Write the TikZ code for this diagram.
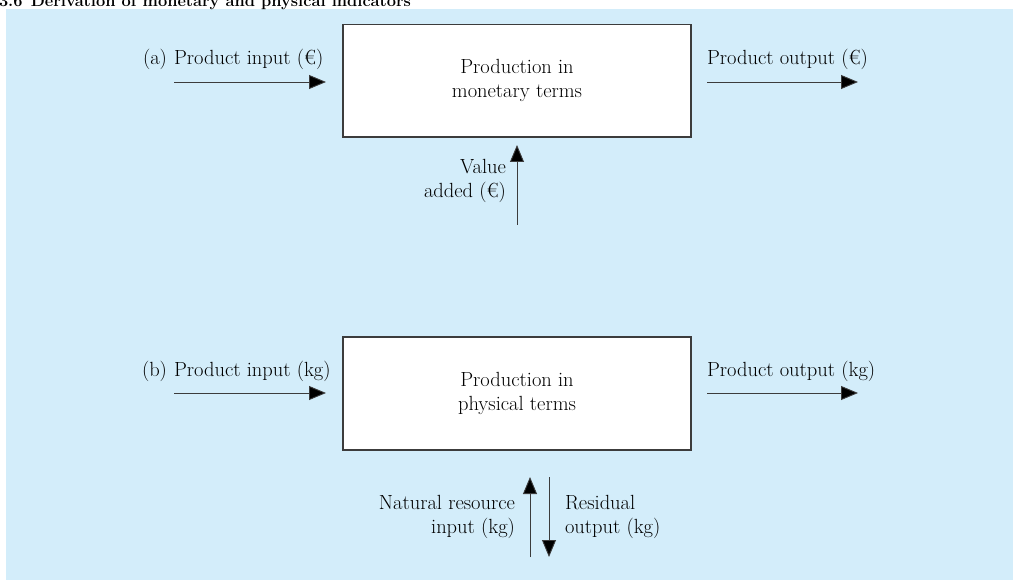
\documentclass[tikz,border=0pt]{standalone}
\usepackage{fontspec}
\usetikzlibrary{arrows.meta}
\definecolor{panelblue}{RGB}{211,237,250}
\definecolor{inkgray}{RGB}{60,60,60}
\begin{document}
\begin{tikzpicture}[x=1pt,y=-1pt,
  every node/.style={inner sep=0pt,outer sep=0pt,font=\fontsize{20.5}{24}\selectfont},
  procbox/.style={draw=inkgray,line width=1.4pt,fill=white},
  flow/.style={draw=inkgray,line width=0.9pt,-{Triangle[length=17pt,width=14pt,fill=black]}},
  lbl/.style={anchor=base west},
  tag/.style={anchor=base east}]
\useasboundingbox (0,0) rectangle (1013,580);
\clip (0,0) rectangle (1013,580);
% panel background and title
\fill[panelblue] (6,9) rectangle (1013,580);
\node[anchor=base west,font=\fontsize{16.4}{19}\selectfont\bfseries] (title) at (-1,7)
  {3.6\enspace Derivation of monetary and physical indicators};

% (a) monetary terms
\node[procbox,minimum width=348pt,minimum height=112.5pt,anchor=north west] (boxa) at (343,24.5) {};
\node[align=center] (boxatext) at (boxa.center) {Production in\\monetary terms};
\node[tag] (taga) at (167,65) {(a)};
\node[lbl] (ina) at (174,65) {Product input (€)};
\node[lbl] (outa) at (707,65) {Product output (€)};
\coordinate (ina0) at (174,82);
\coordinate (ina1) at (326,82);
\draw[flow] (ina0) -- (ina1);
\coordinate (outa0) at (707,82);
\coordinate (outa1) at (858,82);
\draw[flow] (outa0) -- (outa1);
\coordinate (va0) at (517,225);
\coordinate (va1) at (517,145);
\draw[flow] (va0) -- (va1);
\node[align=right,anchor=base east] (va) at (506,198) {Value\\added (€)};

% (b) physical terms
\node[procbox,minimum width=348pt,minimum height=113pt,anchor=north west] (boxb) at (343,337) {};
\node[align=center] (boxbtext) at (boxb.center) {Production in\\physical terms};
\node[tag] (tagb) at (167,377) {(b)};
\node[lbl] (inb) at (174,377) {Product input (kg)};
\node[lbl] (outb) at (707,377) {Product output (kg)};
\coordinate (inb0) at (174,393);
\coordinate (inb1) at (326,393);
\draw[flow] (inb0) -- (inb1);
\coordinate (outb0) at (707,393);
\coordinate (outb1) at (858,393);
\draw[flow] (outb0) -- (outb1);
\coordinate (nr0) at (530,557);
\coordinate (nr1) at (530,477);
\draw[flow] (nr0) -- (nr1);
\coordinate (ro0) at (549,477);
\coordinate (ro1) at (549,557);
\draw[flow] (ro0) -- (ro1);
\node[align=right,anchor=base east] (nr) at (515,533) {Natural resource\\input (kg)};
\node[align=left,anchor=base west] (ro) at (565,533) {Residual\\output (kg)};
\end{tikzpicture}
\end{document}
